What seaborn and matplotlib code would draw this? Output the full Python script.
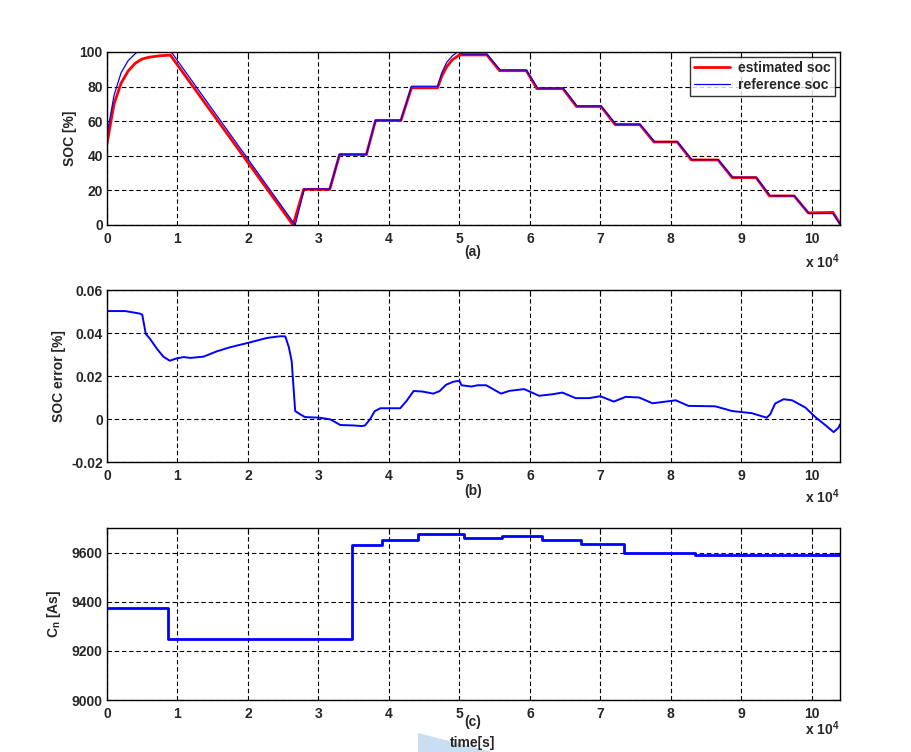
import numpy as np
import pandas as pd
import seaborn as sns
import matplotlib.pyplot as plt
from matplotlib.patches import Polygon

# ---------------- data (time in units of 10^4 s) ----------------
est_t = [0, 0.1, 0.2, 0.3, 0.4, 0.5, 0.6, 0.75, 0.9, 0.92, 2.64, 2.79, 3.16, 3.30, 3.68,
         3.81, 4.17, 4.32, 4.69, 4.75, 4.82, 4.90, 5.00, 5.39, 5.57, 5.95, 6.10, 6.47,
         6.66, 7.01, 7.21, 7.56, 7.76, 8.09, 8.29, 8.67, 8.87, 9.21, 9.40, 9.75, 9.95,
         10.30, 10.40]
est_soc = [47, 70, 82, 89, 93.5, 96, 97, 97.8, 98.2, 97, 0, 20.6, 20.6, 40.7, 40.7,
           60.4, 60.4, 79.3, 79.3, 86, 91.5, 95.5, 98.3, 98.3, 89.2, 89.2, 78.8, 78.8,
           68.5, 68.5, 58, 58, 48, 48, 37.6, 37.6, 27.4, 27.4, 16.8, 16.8, 7.0,
           7.3, 0.8]

ref_t = [0, 0.1, 0.2, 0.3, 0.4, 0.45, 0.9, 0.93, 2.67, 2.80, 3.16, 3.30, 3.68,
         3.81, 4.17, 4.32, 4.69, 4.75, 4.82, 4.90, 4.98, 5.05, 5.39, 5.58, 5.95, 6.11,
         6.47, 6.67, 7.01, 7.22, 7.56, 7.77, 8.09, 8.30, 8.67, 8.88, 9.21, 9.41, 9.75,
         9.96, 10.30, 10.40]
ref_soc = [52, 75, 88, 95, 99, 100.5, 100.5, 99, 0, 20.8, 20.8, 40.9, 40.9,
           60.6, 60.6, 80.2, 80.2, 88, 94, 97.8, 100.2, 98.8, 98.8, 89.6, 89.6, 79.2,
           79.2, 68.8, 68.8, 58.3, 58.3, 48.2, 48.2, 37.8, 37.8, 27.6, 27.6, 16.9, 16.9,
           6.6, 6.6, 0.5]

err_t = [0, 0.26, 0.47, 0.50, 0.55, 0.61, 0.71, 0.80, 0.89, 0.99, 1.09, 1.18, 1.37,
         1.56, 1.75, 2.00, 2.27, 2.46, 2.53, 2.58, 2.62, 2.65, 2.67, 2.74, 2.81, 3.02,
         3.17, 3.31, 3.50, 3.62, 3.66, 3.73, 3.80, 3.88, 4.16, 4.25, 4.35, 4.47, 4.63,
         4.72, 4.81, 4.91, 5.00, 5.03, 5.17, 5.26, 5.38, 5.59, 5.71, 5.92, 6.13, 6.32,
         6.46, 6.65, 6.84, 7.00, 7.19, 7.36, 7.55, 7.74, 8.07, 8.25, 8.63, 8.87, 9.15,
         9.36, 9.41, 9.48, 9.60, 9.72, 9.91, 10.05, 10.19, 10.31, 10.38, 10.40]
err_val = [0.0502, 0.0502, 0.0490, 0.0485, 0.0396, 0.0373, 0.0326, 0.0290, 0.0271,
           0.0282, 0.0288, 0.0284, 0.0290, 0.0315, 0.0334, 0.0354, 0.0377, 0.0385,
           0.0384, 0.0334, 0.0270, 0.0131, 0.0037, 0.0022, 0.0009, 0.0006, -0.0002,
           -0.0028, -0.0030, -0.0033, -0.0030, -0.0002, 0.0037, 0.0050, 0.0050, 0.0084,
           0.0130, 0.0128, 0.0118, 0.0130, 0.0159, 0.0173, 0.0178, 0.0157, 0.0151,
           0.0157, 0.0157, 0.0118, 0.0131, 0.0139, 0.0108, 0.0115, 0.0123, 0.0097,
           0.0097, 0.0106, 0.0081, 0.0103, 0.0100, 0.0073, 0.0087, 0.0061, 0.0059,
           0.0037, 0.0027, 0.0006, 0.0022, 0.0072, 0.0092, 0.0087, 0.0053, 0.0009,
           -0.0028, -0.0061, -0.0040, -0.0025]

cn_t = [0, 0.86, 3.48, 3.90, 4.41, 5.07, 5.61, 6.17, 6.72, 7.34, 8.34, 10.40]
cn_val = [9376, 9250, 9632, 9653, 9677, 9661, 9666, 9653, 9636, 9600, 9592, 9592]

x_ticks = list(range(0, 11))
soc_ticks = [0, 20, 40, 60, 80, 100]
err_ticks = [-0.02, 0, 0.02, 0.04, 0.06]
err_tick_labels = ['-0.02', '0', '0.02', '0.04', '0.06']
cn_ticks = [9000, 9200, 9400, 9600]

# ---------------- style ----------------
sns.set_theme(style="white")
plt.rcParams['font.family'] = ['Liberation Sans', 'DejaVu Sans']
plt.rcParams['font.weight'] = 'bold'
plt.rcParams['axes.labelweight'] = 'bold'
plt.rcParams['mathtext.fontset'] = 'custom'
plt.rcParams['mathtext.rm'] = 'Liberation Sans:bold'
plt.rcParams['mathtext.bf'] = 'Liberation Sans:bold'
plt.rcParams['mathtext.it'] = 'Liberation Sans:bold'

FS = 10
BLUE = '#0000ff'
RED = '#ff0000'

fig = plt.figure(figsize=(9.12, 7.52), dpi=100, facecolor='white')
W, H = 912, 752


def make_ax(top_px, bot_px):
    left, right = 107, 840
    return fig.add_axes([left / W, 1 - bot_px / H, (right - left) / W, (bot_px - top_px) / H])


def style_ax(ax):
    ax.set_xlim(0, 10.4)
    ax.set_xticks(x_ticks)
    ax.set_xticklabels([str(v) for v in x_ticks])
    ax.grid(True, color='black', linestyle=(0, (4, 2.5)), linewidth=0.8)
    for s in ax.spines.values():
        s.set_color('black')
        s.set_linewidth(1.0)
    ax.tick_params(direction='in', length=4, width=0.8, color='black',
                   top=True, right=True, labelsize=FS)
    ax.tick_params(axis='x', pad=5)
    ax.tick_params(axis='y', pad=3)
    for lab in ax.get_xticklabels() + ax.get_yticklabels():
        lab.set_fontweight('bold')
    ax.set_xlabel('')


def px_text(x, y, s, **kw):
    fig.text(x / W, 1 - y / H, s, fontsize=FS, fontweight='bold', **kw)


# ---- panel (a)
ax1 = make_ax(52, 225)
sns.lineplot(x=est_t, y=est_soc, ax=ax1, color=RED, linewidth=2.0,
             label='estimated soc', sort=False)
sns.lineplot(x=ref_t, y=ref_soc, ax=ax1, color=BLUE, linewidth=0.9,
             label='reference soc', sort=False)
ax1.set_ylim(0, 100)
ax1.set_yticks(soc_ticks)
ax1.set_ylabel('SOC [%]', fontsize=FS, fontweight='bold', labelpad=2)
style_ax(ax1)
leg = ax1.legend(loc='upper right', fontsize=10, frameon=True, fancybox=False,
                 edgecolor='black', borderaxespad=0.35, handlelength=2.6,
                 borderpad=0.3, labelspacing=0.2, handletextpad=0.6)
leg.get_frame().set_linewidth(1.0)
for t in leg.get_texts():
    t.set_fontweight('bold')
px_text(473, 252, '(a)', ha='center', va='center')
px_text(822, 262, r'x 10$^{4}$', ha='center', va='center')

# ---- panel (b)
ax2 = make_ax(290, 462)
sns.lineplot(x=err_t, y=err_val, ax=ax2, color=BLUE, linewidth=1.4, sort=False)
ax2.set_ylim(-0.02, 0.06)
ax2.set_yticks(err_ticks)
ax2.set_yticklabels(err_tick_labels)
ax2.set_ylabel('SOC error [%]', fontsize=FS, fontweight='bold', labelpad=4)
style_ax(ax2)
px_text(473, 491, '(b)', ha='center', va='center')
px_text(822, 497, r'x 10$^{4}$', ha='center', va='center')

# ---- panel (c)
ax3 = make_ax(528, 700)
sns.lineplot(x=cn_t, y=cn_val, ax=ax3, color=BLUE, linewidth=2.0,
             drawstyle='steps-post', sort=False)
ax3.set_ylim(9000, 9700)
ax3.set_yticks(cn_ticks)
ax3.set_ylabel(r'C$_{n}$ [As]', fontsize=FS, fontweight='bold', labelpad=6.5)
style_ax(ax3)

# light blue artifact near the bottom label
poly = Polygon([(418 / W, 1 - 733 / H), (492 / W, 1 - 752 / H), (418 / W, 1 - 752 / H)],
               closed=True, transform=fig.transFigure, facecolor='#c9def0',
               edgecolor='none', zorder=0)
fig.patches.append(poly)

px_text(473, 722, '(c)', ha='center', va='center')
px_text(473, 743, 'time[s]', ha='center', va='center')
px_text(822, 729, r'x 10$^{4}$', ha='center', va='center')

fig.savefig('out.png', dpi=100, facecolor='white')
